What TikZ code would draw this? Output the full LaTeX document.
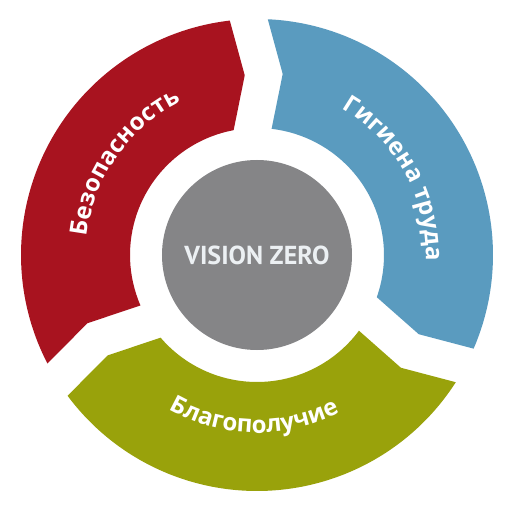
\documentclass[tikz,border=0pt]{standalone}
\usepackage{fontspec}
\setmainfont{PT Sans}
\newfontfamily\ringfont{Open Sans}
\usetikzlibrary{decorations.text}
\definecolor{vzred}{HTML}{A8131F}
\definecolor{vzblue}{HTML}{5A9BBF}
\definecolor{vzgreen}{HTML}{99A20B}
\definecolor{vzgray}{HTML}{858587}
\definecolor{vzlight}{HTML}{ECF0F3}
\tikzset{
  ring label/.style={decorate, decoration={text along path, text align=center,
      text color=white, text={|\ringfont\bfseries\fontsize{24}{24}\selectfont|#1}}},
  hub/.style={circle, fill=vzgray, minimum size=190, inner sep=0,
      text=vzlight, font=\bfseries\fontsize{26}{26}\selectfont}
}

\begin{document}
\begin{tikzpicture}[x=1pt, y=1pt]
\fill[white] (-257,-261) rectangle (259,255);
\useasboundingbox (-257,-261) rectangle (259,255);
% three ring pieces, notch at the start, point at the end
\foreach \a/\col in {212/vzred, 92/vzblue, -28/vzgreen} {
  \pgfmathsetmacro\b{\a-120}
  \fill[\col] ({\a-4.62}:236) arc[start angle=\a-4.62, end angle=\b+4.62, radius=236]
    -- ([rotate=\b]180,6) -- ({\b+8.6}:127)
    arc[start angle=\b+8.6, end angle=\a-8.6, radius=127]
    -- ([rotate=\a]180,-32) -- cycle;
}
\node[hub] (vz) at (0,0) {VISION ZERO};
% labels along the ring
\path[ring label=Безопасность] (181:171) arc[start angle=181, end angle=109, radius=171];
\path[ring label=Гигиена труда] (65:169) arc[start angle=65, end angle=-7, radius=169];
\path[ring label=Благополучие] (-127:178) arc[start angle=-127, end angle=-55, radius=178];
\end{tikzpicture}
\end{document}
